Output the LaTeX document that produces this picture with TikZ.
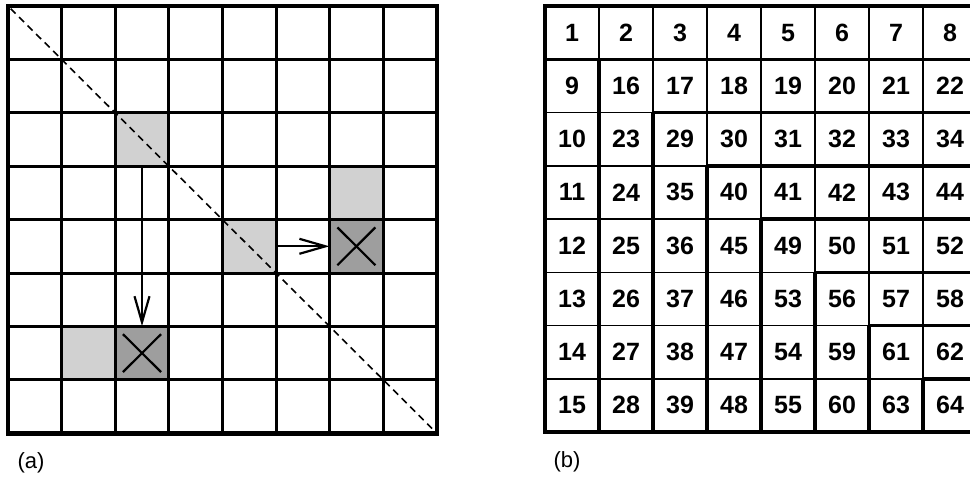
\documentclass[tikz,border=0pt]{standalone}
\usepackage{fontspec}
\setmainfont{Liberation Sans}
\usetikzlibrary{arrows.meta}
\tikzset{
  gridline/.style={line width=3pt},
  border/.style={line width=4.5pt},
  thinline/.style={line width=1.5pt},
  thickline/.style={line width=3.6pt},
  lightcell/.style={fill=black!18},
  darkcell/.style={fill=black!38},
  crossmark/.style={line width=2.2pt},
  diag/.style={line width=1.6pt, dash pattern=on 7pt off 5pt},
  moveto/.style={line width=2.2pt, -{Straight Barb[length=26pt,width=15pt,line width=2.2pt]}},
  num/.style={font=\fontsize{25}{25}\selectfont\bfseries},
  caption/.style={font=\fontsize{22}{22}\selectfont}
}
\begin{document}
\begin{tikzpicture}[x=1pt,y=-1pt]
\useasboundingbox (0,0) rectangle (970,477);
% ---------- left grid (a) ----------
\foreach \i in {0,...,7}{
  \foreach \j in {0,...,7}{
    \node[inner sep=0pt, minimum width=53.6pt, minimum height=53.4pt] (L-\i-\j) at ({8+53.6*\j+26.8},{6+53.4*\i+26.7}) {};
  }
}
\foreach \c in {L-2-2,L-3-6,L-4-4,L-6-1}{
  \fill[lightcell] (\c.north west) rectangle (\c.south east);
}
\foreach \c in {L-4-6,L-6-2}{
  \fill[darkcell] (\c.north west) rectangle (\c.south east);
}
\foreach \k in {1,...,7}{
  \draw[gridline] ({8+53.6*\k},6) -- ({8+53.6*\k},433.2);
  \draw[gridline] (8,{6+53.4*\k}) -- (436.8,{6+53.4*\k});
}
\draw[border] (L-0-0.north west) rectangle (L-7-7.south east);
\draw[diag, shorten <=4pt, shorten >=4pt] (L-0-0.north west) -- (L-7-7.south east);
\foreach \c in {L-4-6,L-6-2}{
  \draw[crossmark] ([shift={(8,8)}]\c.north west) -- ([shift={(-8,-8)}]\c.south east);
  \draw[crossmark] ([shift={(-8,8)}]\c.north east) -- ([shift={(8,-8)}]\c.south west);
}
\draw[moveto] (L-2-2.south) -- (L-6-2.north);
\draw[moveto] (L-4-4.east) -- (L-4-6.west);
\node[caption] (capa) at (31,463) {(a)};
% ---------- right grid (b) ----------
\begin{scope}
\clip (520,0) rectangle (970,477);
\foreach \row [count=\i from 0] in {
  {1,2,3,4,5,6,7,8},
  {9,16,17,18,19,20,21,22},
  {10,23,29,30,31,32,33,34},
  {11,24,35,40,41,42,43,44},
  {12,25,36,45,49,50,51,52},
  {13,26,37,46,53,56,57,58},
  {14,27,38,47,54,59,61,62},
  {15,28,39,48,55,60,63,64}}{
  \foreach \v [count=\j from 0] in \row {
    \node[num, inner sep=0pt, minimum width=54pt, minimum height=53.25pt] (R-\i-\j) at ({545+54*\j+27},{6+53.25*\i+26.6}) {\v};
  }
}
\foreach \k in {1,...,7}{
  \draw[thinline] ({545+54*\k},6) -- ({545+54*\k},432);
  \draw[thinline] (545,{6+53.25*\k}) -- (977,{6+53.25*\k});
}
% layer boundaries
\draw[thickline] (R-0-0.south west) -- (R-0-7.south east);
\foreach \k in {0,...,6}{
  \pgfmathtruncatemacro{\n}{\k+1}
  \draw[thickline] (R-\n-\k.north east) -- (R-7-\k.south east);
  \ifnum\k>0
    \draw[thickline] (R-\k-\n.south west) -- (R-\k-7.south east);
  \fi
}
\draw[border] (R-0-7.north east) -- (R-0-0.north west) -- (R-7-0.south west) -- (R-7-7.south east) -- (R-0-7.north east);
\end{scope}
\node[caption] (capb) at (567,462) {(b)};
\end{tikzpicture}
\end{document}
